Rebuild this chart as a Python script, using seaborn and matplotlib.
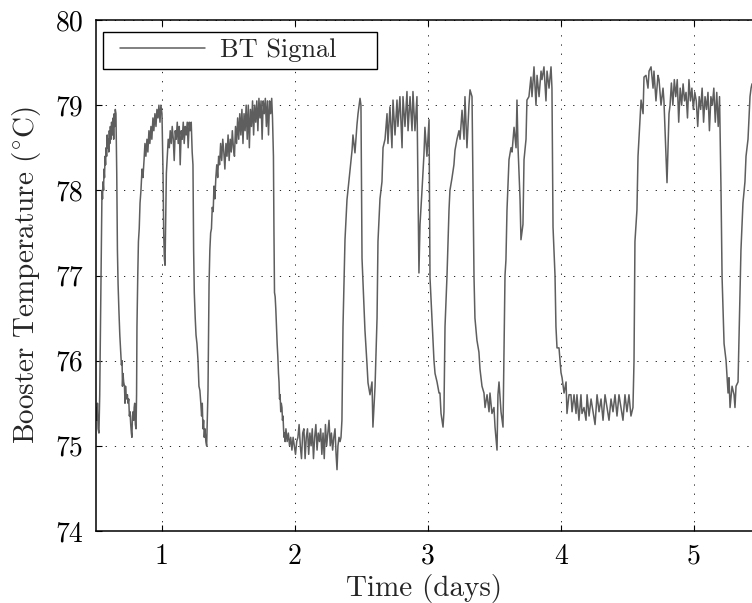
import matplotlib
matplotlib.use("Agg")
import matplotlib.pyplot as plt
from matplotlib.lines import Line2D
from matplotlib.legend_handler import HandlerLine2D
import seaborn as sns
import pandas as pd

# ---- data: time in days, BT signal in degC, per segment ----
t_rise1 = [0.504, 0.510, 0.515, 0.520, 0.526, 0.532, 0.537, 0.541, 0.545, 0.549, 0.553, 0.557, 0.561,
           0.564, 0.568, 0.572, 0.576, 0.580, 0.584, 0.588, 0.592, 0.596, 0.600, 0.604, 0.608, 0.612,
           0.617, 0.621, 0.625, 0.629, 0.633, 0.637, 0.641, 0.645, 0.649, 0.654]
y_rise1 = [75.45, 75.30, 75.50, 75.20, 75.15, 75.60, 76.30, 76.90, 77.50, 78.00, 77.90, 78.10, 78.00,
           78.25, 78.15, 78.40, 78.30, 78.50, 78.40, 78.65, 78.50, 78.60, 78.45, 78.70, 78.55, 78.75,
           78.60, 78.80, 78.70, 78.65, 78.85, 78.60, 78.90, 78.75, 78.95, 78.90]

t_drop1 = [0.660, 0.665, 0.670, 0.676, 0.683, 0.690, 0.695, 0.700, 0.703, 0.707, 0.712, 0.718, 0.722,
           0.726, 0.730, 0.735, 0.740, 0.745, 0.750, 0.755, 0.760, 0.765, 0.770, 0.774, 0.778, 0.783,
           0.787, 0.791, 0.795, 0.800, 0.805, 0.809]
y_drop1 = [78.20, 77.30, 76.90, 76.60, 76.30, 76.10, 75.95, 76.00, 75.70, 75.85, 75.75, 75.70, 75.50,
           75.70, 75.60, 75.55, 75.60, 75.50, 75.55, 75.35, 75.40, 75.25, 75.15, 75.10, 75.35, 75.40,
           75.30, 75.45, 75.50, 75.25, 75.20, 75.60]

t_rise2 = [0.812, 0.818, 0.823, 0.829, 0.835, 0.842, 0.850, 0.857, 0.865, 0.872, 0.879, 0.887, 0.894,
           0.902, 0.909, 0.917, 0.924, 0.932, 0.939, 0.947, 0.955, 0.962, 0.970, 0.977, 0.985, 0.992,
           1.000]
y_rise2 = [76.40, 77.00, 77.40, 77.55, 77.85, 78.00, 78.25, 78.15, 78.35, 78.55, 78.40, 78.60, 78.45,
           78.70, 78.55, 78.75, 78.60, 78.85, 78.70, 78.90, 78.75, 78.95, 78.85, 79.00, 78.80, 79.00,
           78.90]

t_plat2 = [1.008, 1.013, 1.018, 1.023, 1.028, 1.033, 1.040, 1.047, 1.055, 1.062, 1.070, 1.077, 1.085,
           1.092, 1.100, 1.107, 1.115, 1.122, 1.130, 1.137, 1.145, 1.152, 1.160, 1.167, 1.175, 1.182,
           1.190, 1.197, 1.205, 1.212, 1.220, 1.227]
y_plat2 = [78.20, 77.50, 77.20, 77.12, 77.70, 78.20, 78.40, 78.60, 78.50, 78.70, 78.55, 78.75, 78.60,
           78.35, 78.70, 78.60, 78.80, 78.55, 78.75, 78.30, 78.70, 78.60, 78.80, 78.55, 78.75, 78.65,
           78.80, 78.50, 78.80, 78.70, 78.80, 78.45]

t_drop2 = [1.233, 1.238, 1.243, 1.250, 1.256, 1.263, 1.271, 1.278, 1.285, 1.292, 1.298, 1.303, 1.308,
           1.313, 1.318, 1.323, 1.330, 1.336, 1.341, 1.346, 1.350, 1.354, 1.360, 1.366, 1.372, 1.378,
           1.385, 1.391, 1.398, 1.405, 1.412, 1.419, 1.426]
y_drop2 = [78.30, 77.30, 76.80, 76.50, 76.30, 76.20, 76.00, 75.70, 75.65, 75.50, 75.35, 75.50, 75.20,
           75.30, 75.10, 75.20, 75.05, 75.00, 75.30, 75.65, 76.30, 76.90, 77.30, 77.50, 77.55, 77.80,
           77.75, 78.05, 77.90, 78.15, 78.30, 78.15, 78.40]

t_plat3 = [1.433, 1.441, 1.449, 1.457, 1.465, 1.473, 1.481, 1.489, 1.497, 1.505, 1.513, 1.521, 1.529,
           1.537, 1.545, 1.553, 1.561, 1.569, 1.577, 1.585, 1.593, 1.601, 1.609, 1.617, 1.625, 1.633,
           1.641, 1.649, 1.657, 1.665, 1.673, 1.681, 1.689, 1.697, 1.705, 1.713, 1.721, 1.729, 1.737,
           1.745, 1.753, 1.761, 1.769, 1.777, 1.785, 1.793, 1.801, 1.809, 1.817, 1.825, 1.831]
y_plat3 = [78.30, 78.55, 78.35, 78.60, 78.45, 78.25, 78.55, 78.40, 78.65, 78.35, 78.60, 78.45, 78.70,
           78.50, 78.40, 78.75, 78.55, 78.85, 78.60, 78.90, 78.65, 78.95, 78.55, 78.90, 78.70, 79.00,
           78.60, 79.00, 78.50, 78.95, 78.75, 79.05, 78.65, 79.00, 78.80, 79.05, 78.70, 79.08, 78.85,
           79.05, 78.60, 79.05, 78.90, 79.08, 78.75, 79.05, 78.65, 79.05, 78.90, 79.08, 78.85]

t_drop3 = [1.838, 1.842, 1.846, 1.851, 1.856, 1.861, 1.866, 1.871, 1.876, 1.880, 1.884, 1.888, 1.893,
           1.897, 1.902, 1.906, 1.910, 1.914, 1.918, 1.922, 1.926]
y_drop3 = [78.40, 77.50, 76.80, 76.75, 76.60, 76.40, 76.20, 76.05, 75.85, 75.75, 75.55, 75.60, 75.40,
           75.50, 75.45, 75.30, 75.35, 75.20, 75.10, 75.15, 75.05]

t_low1 = [1.932, 1.941, 1.950, 1.959, 1.968, 1.977, 1.986, 1.995, 2.004, 2.013, 2.022, 2.031, 2.040,
          2.049, 2.058, 2.067, 2.076, 2.085, 2.094, 2.103, 2.112, 2.121, 2.130, 2.139, 2.148, 2.157,
          2.166, 2.175, 2.184, 2.193, 2.202, 2.211, 2.220, 2.229, 2.238, 2.247, 2.256, 2.265, 2.274,
          2.283, 2.292, 2.301, 2.309, 2.316, 2.323, 2.331, 2.339, 2.346, 2.353]
y_low1 = [75.20, 75.05, 75.15, 75.00, 75.10, 74.95, 75.10, 75.00, 74.90, 75.05, 75.10, 75.25, 75.00,
          74.85, 75.15, 75.20, 74.85, 75.10, 75.20, 74.90, 75.15, 75.00, 75.20, 74.85, 75.10, 75.25,
          74.95, 75.15, 75.05, 75.20, 74.90, 75.15, 74.85, 75.25, 75.00, 75.15, 75.30, 75.00, 75.15,
          74.95, 75.10, 75.20, 74.90, 74.72, 75.00, 75.10, 75.05, 75.10, 75.30]

t_mid = [2.361, 2.376, 2.391, 2.398, 2.414, 2.429, 2.436, 2.451, 2.466, 2.474, 2.489, 2.496,
         2.504, 2.526, 2.541, 2.549, 2.564, 2.579, 2.586, 2.602, 2.617, 2.624, 2.639, 2.654, 2.662,
         2.677, 2.692, 2.699, 2.714, 2.729, 2.737, 2.752, 2.767, 2.774, 2.789, 2.805, 2.812, 2.827,
         2.842, 2.850, 2.865, 2.880, 2.887, 2.902, 2.917, 2.932, 2.940, 2.955, 2.970, 2.977, 2.992,
         3.008, 3.015, 3.030, 3.045, 3.053, 3.068, 3.083, 3.090, 3.098, 3.113, 3.120, 3.128, 3.143,
         3.158, 3.165, 3.180, 3.195, 3.203, 3.218, 3.233, 3.241, 3.256, 3.271, 3.278, 3.293, 3.308,
         3.316, 3.331, 3.346, 3.353, 3.368, 3.383, 3.391, 3.406, 3.421, 3.429, 3.444, 3.459, 3.466,
         3.481, 3.496, 3.504, 3.519, 3.526, 3.534, 3.549, 3.564]
y_mid = [76.40, 77.42, 77.89, 78.00, 78.24, 78.47, 78.65, 78.44, 78.77, 78.90, 79.08, 79.00,
         77.20, 76.36, 75.97, 75.74, 75.60, 75.75, 75.22, 75.70, 76.50, 77.40, 77.90, 78.10, 78.50,
         78.60, 78.90, 78.55, 78.98, 78.50, 79.06, 78.65, 79.06, 78.75, 79.10, 78.50, 79.10, 78.75,
         79.16, 78.70, 79.10, 78.70, 79.16, 78.70, 79.10, 77.03, 77.60, 78.00, 78.43, 78.74, 78.40,
         78.83, 76.98, 76.48, 76.00, 75.85, 75.75, 75.62, 75.62, 75.38, 75.22, 75.40, 76.40, 77.00,
         77.77, 78.00, 78.14, 78.30, 78.47, 78.60, 78.70, 78.60, 78.94, 78.60, 79.10, 78.50, 79.00,
         79.18, 79.10, 76.98, 76.50, 76.24, 76.10, 75.90, 75.70, 75.62, 75.45, 75.60, 75.40, 75.62,
         75.38, 75.45, 75.22, 74.95, 75.60, 75.75, 75.40, 75.22]

t_peak4 = [3.579, 3.586, 3.594, 3.609, 3.624, 3.632, 3.647, 3.662, 3.669, 3.677, 3.692, 3.699, 3.714,
           3.722, 3.737, 3.744, 3.759, 3.774, 3.782, 3.797, 3.812, 3.820, 3.835, 3.850, 3.857, 3.872,
           3.887, 3.895, 3.910, 3.925, 3.932, 3.940, 3.955, 3.962, 3.970, 3.985, 4.000, 4.008, 4.023,
           4.038, 4.045, 4.060, 4.075, 4.083, 4.098, 4.113, 4.120, 4.135, 4.150, 4.158, 4.173, 4.188]
y_peak4 = [77.00, 77.18, 77.77, 78.36, 78.50, 78.45, 78.74, 78.50, 79.06, 78.50, 77.90, 77.42, 77.60,
           78.36, 78.60, 79.06, 79.10, 79.33, 79.10, 79.45, 79.00, 79.35, 79.10, 79.40, 79.30, 79.45,
           79.05, 79.40, 79.20, 79.45, 79.20, 77.57, 77.00, 76.40, 76.15, 76.15, 75.86, 75.80, 75.62,
           75.75, 75.38, 75.60, 75.60, 75.40, 75.60, 75.38, 75.60, 75.30, 75.60, 75.38, 75.45, 75.30]

t_low2 = [4.196, 4.211, 4.226, 4.241, 4.256, 4.271, 4.286, 4.301, 4.316, 4.331, 4.346, 4.361, 4.376,
          4.391, 4.406, 4.421, 4.436, 4.451, 4.466, 4.481, 4.496, 4.511, 4.526, 4.541]
y_low2 = [75.60, 75.35, 75.55, 75.40, 75.25, 75.60, 75.40, 75.55, 75.30, 75.60, 75.45, 75.30, 75.55,
          75.40, 75.60, 75.35, 75.60, 75.45, 75.30, 75.60, 75.40, 75.60, 75.35, 75.45]

t_rise5 = [4.549, 4.556, 4.571, 4.579, 4.586, 4.602, 4.617, 4.624, 4.639, 4.654, 4.662, 4.677, 4.692,
           4.699, 4.714, 4.729, 4.737, 4.752, 4.767, 4.774, 4.797, 4.812]
y_rise5 = [76.00, 77.40, 77.77, 78.40, 78.60, 79.06, 78.90, 79.33, 79.35, 79.20, 79.40, 79.45, 79.20,
           79.40, 79.05, 79.35, 79.30, 79.00, 79.20, 79.05, 78.09, 78.90]

t_plat5 = [4.820, 4.830, 4.841, 4.852, 4.863, 4.874, 4.885, 4.896, 4.907, 4.918, 4.929, 4.940, 4.951,
           4.962, 4.973, 4.984, 4.995, 5.006, 5.017, 5.028, 5.039, 5.050, 5.061, 5.072, 5.083, 5.094,
           5.105, 5.116, 5.127, 5.138, 5.149, 5.160, 5.171, 5.182, 5.192]
y_plat5 = [79.00, 79.26, 79.00, 79.30, 79.10, 79.30, 78.80, 79.20, 79.00, 79.25, 79.05, 79.15, 78.85,
           79.30, 79.05, 79.20, 78.95, 79.15, 79.05, 78.75, 79.10, 78.95, 79.20, 78.80, 79.10, 78.95,
           79.15, 78.70, 79.10, 79.00, 79.20, 78.80, 79.15, 78.75, 79.10]

t_end = [5.203, 5.211, 5.226, 5.241, 5.256, 5.263, 5.271, 5.286, 5.301, 5.308, 5.316, 5.331,
         5.346, 5.353, 5.368, 5.383, 5.391, 5.406, 5.421, 5.429, 5.436, 5.450]
y_end = [78.00, 76.98, 76.20, 76.00, 75.62, 75.80, 75.45, 75.70, 75.60, 75.45, 75.70, 75.75,
         76.79, 77.30, 77.85, 78.10, 78.40, 78.60, 79.10, 79.20, 79.25, 79.25]

x_ticks = [1, 2, 3, 4, 5]
y_ticks = [74, 75, 76, 77, 78, 79, 80]
series_label = "BT Signal"
x_label = "Time (days)"
y_label = r"Booster Temperature ($^{\circ}$C)"

segments = [(t_rise1, y_rise1), (t_drop1, y_drop1), (t_rise2, y_rise2), (t_plat2, y_plat2),
            (t_drop2, y_drop2), (t_plat3, y_plat3), (t_drop3, y_drop3), (t_low1, y_low1),
            (t_mid, y_mid), (t_peak4, y_peak4), (t_low2, y_low2), (t_rise5, y_rise5),
            (t_plat5, y_plat5), (t_end, y_end)]
time_days, bt_signal = [], []
for ts, ys in segments:
    assert len(ts) == len(ys), (len(ts), len(ys))
    time_days += ts
    bt_signal += ys

df = pd.DataFrame({"t": time_days, "temp": bt_signal})

sns.set_style("white")
plt.rcParams["font.family"] = "serif"
plt.rcParams["font.serif"] = ["cmr10", "DejaVu Serif"]
plt.rcParams["mathtext.fontset"] = "cm"
plt.rcParams["axes.formatter.use_mathtext"] = True

fig = plt.figure(figsize=(7.52, 6.03), dpi=100)
ax = fig.add_axes([96 / 752, 72 / 603, 656 / 752, 511 / 603])

sns.lineplot(data=df, x="t", y="temp", ax=ax, color="#5e5e5e", linewidth=1.1,
             sort=False, estimator=None, label=series_label)

ax.set_xlim(0.504, 5.436)
ax.set_ylim(74, 80)
ax.set_xticks(x_ticks)
ax.set_yticks(y_ticks)
ax.set_xticklabels([str(v) for v in x_ticks])
ax.set_yticklabels([str(v) for v in y_ticks])

ax.grid(True, color="black", linestyle=(0, (1.5, 9.5)), linewidth=0.6)
ax.tick_params(direction="in", length=4.5, width=0.8, top=True, bottom=True,
               left=True, right=False, labelsize=20, pad=9, colors="black")
for side in ["left", "bottom", "top"]:
    ax.spines[side].set_visible(True)
    ax.spines[side].set_color("black")
    ax.spines[side].set_linewidth(1.1)
ax.spines["right"].set_visible(False)

ax.set_xlabel(x_label, fontsize=21, labelpad=3)
ax.set_ylabel(y_label, fontsize=21, labelpad=9)

leg = ax.legend(loc="upper left", bbox_to_anchor=(0.0107, 0.8998, 0.4177, 0.0767),
                mode="expand", borderaxespad=0, fontsize=19, frameon=True, fancybox=False,
                edgecolor="black", framealpha=1, handlelength=3.6, handletextpad=0.6,
                borderpad=0.25, handler_map={Line2D: HandlerLine2D(xpad=0.38)})
leg.get_frame().set_linewidth(1.0)

fig.savefig("out.png", dpi=100)
